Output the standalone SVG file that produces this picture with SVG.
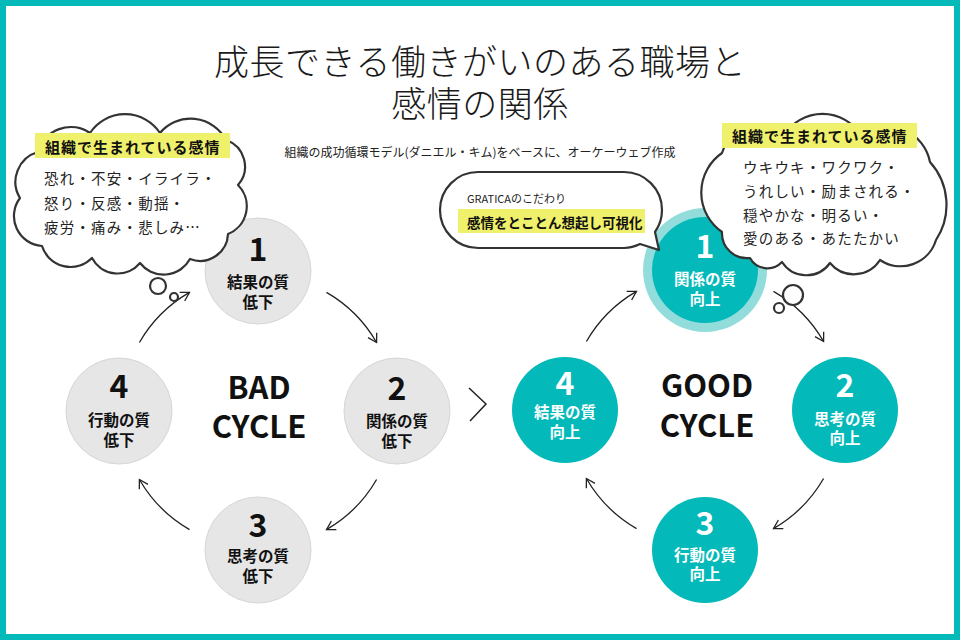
<svg xmlns="http://www.w3.org/2000/svg" width="960" height="640" viewBox="0 0 960 640">
<defs>
<style>
text{font-family:"Noto Sans CJK JP","Noto Sans",sans-serif}
.title{font-size:35px;font-weight:300;fill:#1a1a1a;text-anchor:middle;letter-spacing:0.5px}
.sub{font-size:12px;fill:#222;text-anchor:middle}
.gray{fill:#e6e6e6;stroke:#d6d6d6;stroke-width:1}
.teal{fill:#03b9b9}
.halo{fill:#93dcdc}
.num{font-size:32px;font-weight:700;text-anchor:middle}
.lab{font-size:15.5px;font-weight:700;text-anchor:middle}
.dark{fill:#111}
.white{fill:#fff}
.big{font-size:31px;font-weight:700;text-anchor:middle;fill:#111}
.cloud{fill:#fff;stroke:#333;stroke-width:2.2;stroke-linejoin:round}
.hl{fill:#eff06b}
.hlt{font-size:15px;font-weight:700;fill:#111;letter-spacing:1px}
.ct{font-size:14.5px;fill:#222;letter-spacing:1.2px}
.arc{fill:none;stroke:#222;stroke-width:1.3;marker-end:url(#ah)}
</style>
<marker id="ah" markerUnits="userSpaceOnUse" markerWidth="14" markerHeight="14" refX="10" refY="6" orient="auto"><path d="M1.5,1 L10,6 L1.5,11" fill="none" stroke="#222" stroke-width="1.3"/></marker>
</defs>
<rect x="0" y="0" width="960" height="640" fill="#fff"/>
<rect x="3" y="3" width="954" height="634" fill="none" stroke="#03b9b9" stroke-width="6"/>

<g id="title">
<text class="title" x="480" y="75">成長できる働きがいのある職場と</text>
<text class="title" x="480" y="117">感情の関係</text>
<text class="sub" x="480" y="157">組織の成功循環モデル(ダニエル・キム)をベースに、オーケーウェブ作成</text>
</g>

<g id="connectors">
<path class="arc" d="M139.4,342.5 A137,137 0 0 1 189.5,292.4"/>
<path class="arc" d="M326.5,292.4 A137,137 0 0 1 376.6,342.5"/>
<path class="arc" d="M376.6,479.5 A137,137 0 0 1 326.5,529.6"/>
<path class="arc" d="M189.5,529.6 A137,137 0 0 1 139.4,479.5"/>
<path class="arc" d="M586.4,341.5 A137,137 0 0 1 636.5,291.4"/>
<path class="arc" d="M773.5,291.4 A137,137 0 0 1 823.6,341.5"/>
<path class="arc" d="M823.6,478.5 A137,137 0 0 1 773.5,528.6"/>
<path class="arc" d="M636.5,528.6 A137,137 0 0 1 586.4,478.5"/>
<polyline points="469,388 486,404 470,421" fill="none" stroke="#222" stroke-width="1.5"/>
</g>

<g id="bad-center"><text class="big" x="259" y="399">BAD</text><text class="big" x="259" y="438">CYCLE</text></g>
<g id="good-center"><text class="big" x="707" y="397">GOOD</text><text class="big" x="707" y="437">CYCLE</text></g>

<g id="bad-1"><circle class="gray" cx="258" cy="271" r="53"/><text class="num dark" x="258" y="261">1</text><text class="lab dark" x="258" y="288">結果の質</text><text class="lab dark" x="258" y="308">低下</text></g>
<g id="bad-2"><circle class="gray" cx="397" cy="411" r="53"/><text class="num dark" x="397" y="400">2</text><text class="lab dark" x="397" y="427">関係の質</text><text class="lab dark" x="397" y="447">低下</text></g>
<g id="bad-3"><circle class="gray" cx="258" cy="550" r="53"/><text class="num dark" x="258" y="537">3</text><text class="lab dark" x="258" y="562">思考の質</text><text class="lab dark" x="258" y="582">低下</text></g>
<g id="bad-4"><circle class="gray" cx="119" cy="411" r="53"/><text class="num dark" x="119" y="398">4</text><text class="lab dark" x="119" y="426">行動の質</text><text class="lab dark" x="119" y="446">低下</text></g>

<g id="good-1"><circle class="halo" cx="705" cy="270" r="62"/><circle class="teal" cx="705" cy="270" r="53"/><text class="num white" x="705" y="258">1</text><text class="lab white" x="705" y="285">関係の質</text><text class="lab white" x="705" y="305">向上</text></g>
<g id="good-2"><circle class="teal" cx="845" cy="410" r="53"/><text class="num white" x="845" y="397">2</text><text class="lab white" x="845" y="425">思考の質</text><text class="lab white" x="845" y="444">向上</text></g>
<g id="good-3"><circle class="teal" cx="705" cy="550" r="53"/><text class="num white" x="705" y="535">3</text><text class="lab white" x="705" y="561">行動の質</text><text class="lab white" x="705" y="580">向上</text></g>
<g id="good-4"><circle class="teal" cx="565" cy="410" r="53"/><text class="num white" x="565" y="395">4</text><text class="lab white" x="565" y="418">結果の質</text><text class="lab white" x="565" y="438">向上</text></g>

<g id="bad-cloud">
<path class="cloud" d="M38,152 A34,34 0 0 1 90,133 A42,42 0 0 1 160,133 A40,40 0 0 1 226,140 A28,28 0 0 1 238,185 A30,30 0 0 1 228,234 A28,28 0 0 1 190,259 A30,30 0 0 1 140,263 A29,29 0 0 1 92,258 A30,30 0 0 1 42,246 A30,30 0 0 1 20,198 A31,31 0 0 1 38,152 Z"/>
<rect class="hl" x="35" y="133" width="195" height="25"/>
<text class="hlt" x="45" y="153">組織で生まれている感情</text>
<text class="ct" x="44" y="184">恐れ・不安・イライラ・</text>
<text class="ct" x="44" y="209">怒り・反感・動揺・</text>
<text class="ct" x="44" y="233">疲労・痛み・悲しみ…</text>
<circle class="cloud" cx="158" cy="286" r="8"/>
<circle class="cloud" cx="174" cy="297" r="4"/>
</g>

<g id="good-cloud">
<path class="cloud" d="M722,153 A40,40 0 0 1 785,134 A45,45 0 0 1 860,134 A45,45 0 0 1 930,162 A64,64 0 0 1 936,240 A37,37 0 0 1 880,260 A31,31 0 0 1 830,263 A29,29 0 0 1 782,262 A20,20 0 0 1 750,258 A25,25 0 0 1 722,232 A48,48 0 0 1 722,153 Z"/>
<rect class="hl" x="722" y="123" width="195" height="25"/>
<text class="hlt" x="732" y="142">組織で生まれている感情</text>
<text class="ct" x="743" y="173">ウキウキ・ワクワク・</text>
<text class="ct" x="743" y="197">うれしい・励まされる・</text>
<text class="ct" x="743" y="221">穏やかな・明るい・</text>
<text class="ct" x="743" y="244">愛のある・あたたかい</text>
<circle class="cloud" cx="793" cy="295" r="10"/>
<circle class="cloud" cx="779" cy="308" r="5"/>
</g>

<g id="gratica-bubble">
<path class="cloud" d="M478,172 H624 A38,38 0 0 1 662,210 A38,38 0 0 1 655,232 L659,250 L640,244 A38,38 0 0 1 624,248 H478 A38,38 0 0 1 440,210 A38,38 0 0 1 478,172 Z"/>
<text x="467" y="203" style="font-size:11px;fill:#222">GRATICAのこだわり</text>
<rect class="hl" x="458" y="209" width="187" height="24"/>
<text x="467" y="228" style="font-size:13.5px;font-weight:700;fill:#111">感情をとことん想起し可視化</text>
</g>
</svg>
